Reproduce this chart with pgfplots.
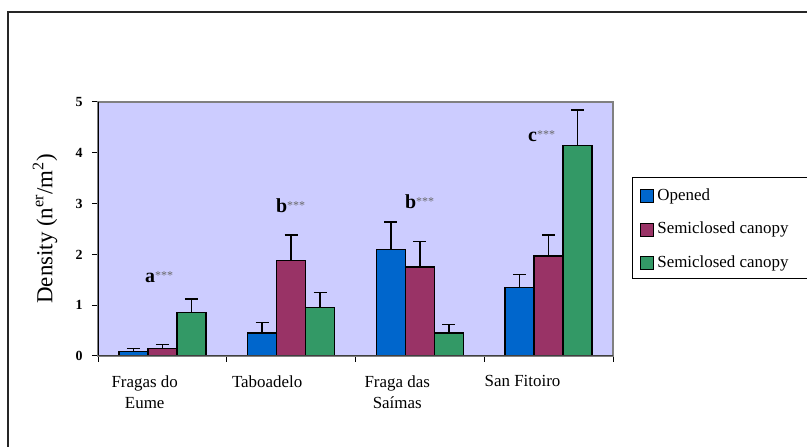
\documentclass[border=0pt]{standalone}
\usepackage{pgfplots}
\pgfplotsset{compat=1.18}
\usepackage{fontspec}
\setmainfont{Liberation Serif}
\definecolor{cblue}{HTML}{0066CC}
\definecolor{cmag}{HTML}{993366}
\definecolor{cgreen}{HTML}{339966}
\definecolor{bgc}{HTML}{CCCCFF}
\newcommand{\sig}[1]{\fontsize{20}{20}\selectfont\textbf{#1}\raisebox{3bp}{\fontsize{12}{12}\selectfont\color{black!60}***}}
\begin{document}
\begin{tikzpicture}
\path[use as bounding box] (0bp,0bp) rectangle (807bp,447bp);
\draw[line width=1.3bp, black!85] (8bp,-2bp) -- (8bp,435bp) -- (812bp,435bp);
\begin{axis}[
  at={(98bp,91bp)}, anchor=south west,
  scale only axis, width=515bp, height=254bp,
  xmin=-0.5, xmax=3.5, ymin=0, ymax=5,
  axis background/.style={fill=bgc},
  axis line style={draw=gray, line width=1.3bp},
  ybar=0pt, bar width=29bp,
  xtick pos=bottom, ytick pos=left,
  ytick={0,1,2,3,4,5},
  yticklabel style={font=\fontsize{14}{14}\selectfont\bfseries, xshift=-6bp},
  /pgf/number format/assume math mode=true,
  tick align=outside,
  major tick length=6bp,
  tick style={black, line width=1bp},
  xtick={-0.5,0.5,1.5,2.5,3.5},
  xticklabels={},
  extra x ticks={-0.137,0.814,1.824,2.797},
  extra x tick labels={{Fragas do\\Eume},Taboadelo,{Fraga das\\Saímas},San Fitoiro},
  extra x tick style={major tick length=0pt},
  xticklabel style={align=center, font=\fontsize{17}{21}\selectfont, yshift=-16bp},
  ylabel={Density (n\textsuperscript{er}/m\textsuperscript{2})},
  ylabel style={font=\fontsize{23}{23}\selectfont, at={(axis description cs:-0.103,0.5)}, anchor=center},
  legend style={at={(axis description cs:1.0369,0.7008)}, anchor=north west, draw=none, fill=none,
    font=\fontsize{17}{17}\selectfont, inner xsep=8bp, inner ysep=10bp,
    nodes={inner sep=0pt, text height=12bp, text depth=4bp}, row sep=17.5bp},
  legend cell align=left,
  legend image code/.code={\draw[#1, line width=1bp] (0bp,-6.5bp) rectangle (13bp,6.5bp); \path (16bp,0bp);},
  error bars/y dir=plus, error bars/y explicit,
  error bars/error bar style={black, line width=1.3bp},
  error bars/error mark options={black, line width=1.3bp, mark size=6.4bp, rotate=90},
]
\addplot[fill=cblue, draw=black, line width=1.3bp] coordinates {
  (0,0.085) +- (0,0.065)
  (1,0.45) +- (0,0.21)
  (2,2.09) +- (0,0.55)
  (3,1.35) +- (0,0.26)
};
\addlegendentry{Opened}
\addplot[fill=cmag, draw=black, line width=1.3bp] coordinates {
  (0,0.15) +- (0,0.07)
  (1,1.88) +- (0,0.50)
  (2,1.75) +- (0,0.50)
  (3,1.97) +- (0,0.41)
};
\addlegendentry{Semiclosed canopy}
\addplot[fill=cgreen, draw=black, line width=1.3bp] coordinates {
  (0,0.85) +- (0,0.27)
  (1,0.95) +- (0,0.30)
  (2,0.45) +- (0,0.17)
  (3,4.14) +- (0,0.70)
};
\addlegendentry{Semiclosed canopy}
\draw[black, line width=1.3bp] (rel axis cs:0,0) -- (rel axis cs:0,1);
\draw[black!75, line width=1.3bp] (rel axis cs:0,0) -- (rel axis cs:1,0);
\node[anchor=base west, inner sep=0pt] at (axis cs:-0.135,1.44) {\sig{a}};
\node[anchor=base west, inner sep=0pt] at (axis cs:0.882,2.83) {\sig{b}};
\node[anchor=base west, inner sep=0pt] at (axis cs:1.884,2.91) {\sig{b}};
\node[anchor=base west, inner sep=0pt] at (axis cs:2.84,4.23) {\sig{c}};
\end{axis}
\draw[black, line width=1bp] (632bp,168bp) rectangle (815bp,269bp);
\end{tikzpicture}
\end{document}
